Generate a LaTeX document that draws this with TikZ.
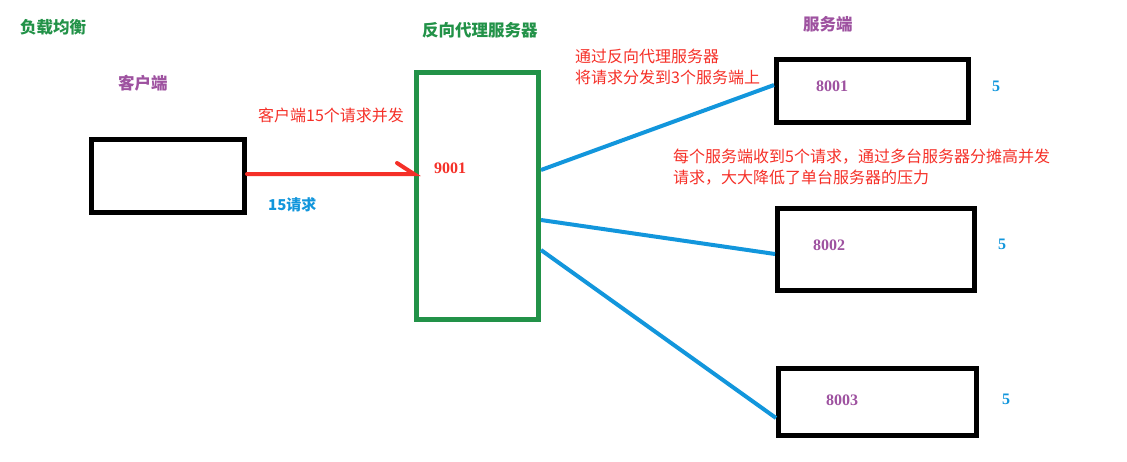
\documentclass[tikz,border=0pt]{standalone}
\usepackage{fontspec}
\setmainfont{Noto Sans CJK SC}
\newfontfamily\numfont{Liberation Serif}
\definecolor{tgreen}{RGB}{34,146,72}
\definecolor{tred}{RGB}{245,48,40}
\definecolor{tpurple}{RGB}{158,82,160}
\definecolor{tblue}{RGB}{18,150,220}
\begin{document}
\begin{tikzpicture}[x=1pt,y=-1pt,
  box/.style={draw=black,line width=5pt,inner sep=0pt,fill=white},
  title/.style={anchor=west,inner sep=0pt,font=\fontsize{16.5}{19}\selectfont\bfseries},
  note/.style={anchor=west,inner sep=0pt,align=left,text=tred,font=\fontsize{16}{21}\selectfont},
  num/.style={anchor=west,inner sep=0pt,font=\fontsize{16}{18}\numfont\bfseries},
  link/.style={tblue,line width=4pt}]
\useasboundingbox (0,0) rectangle (1127,461);
% boxes
\node[box,minimum width=153pt,minimum height=73pt] (client) at (168,176) {};
\node[box,draw=tgreen,minimum width=122pt,minimum height=247pt] (proxy) at (477.5,196) {};
\node[box,minimum width=192pt,minimum height=63pt] (s1) at (872.5,91) {};
\node[box,minimum width=197pt,minimum height=82pt] (s2) at (876,249.5) {};
\node[box,minimum width=198pt,minimum height=67pt] (s3) at (877.5,402) {};
% titles
\node[title,text=tgreen] (t1) at (20,27) {负载均衡};
\node[title,text=tpurple] (t2) at (118,83) {客户端};
\node[title,text=tgreen] (t3) at (422,30) {反向代理服务器};
\node[title,text=tpurple] (t4) at (803,24) {服务端};
% notes
\node[note] (n1) at (258,115) {客户端15个请求并发};
\node[note,text=tblue,font=\fontsize{15}{18}\selectfont\bfseries] (n2) at (268,205) {15请求};
\node[note] (n3) at (575,67) {通过反向代理服务器\\将请求分发到3个服务端上};
\node[note] (n4) at (673,167) {每个服务端收到5个请求，通过多台服务器分摊高并发\\请求，大大降低了单台服务器的压力};
% numbers
\node[num,text=tred] (p) at (434,168) {9001};
\node[num,text=tpurple] (a1) at (816,86) {8001};
\node[num,text=tpurple] (a2) at (813,245) {8002};
\node[num,text=tpurple] (a3) at (826,400) {8003};
\node[num,text=tblue] (c1) at (992,86) {5};
\node[num,text=tblue] (c2) at (998,244) {5};
\node[num,text=tblue] (c3) at (1002,399) {5};
% connectors
\coordinate (aend) at ([yshift=22pt]proxy.west);
\draw[tred,line width=4pt,line cap=round] ([yshift=2pt]client.east) -- (aend) -- ++(-17pt,11pt);
\draw[link] ([yshift=26pt]proxy.east) -- ([yshift=6pt]s1.west);
\draw[link] ([yshift=-24pt]proxy.east) -- ([yshift=-4.5pt]s2.west);
\draw[link] ([yshift=-54pt]proxy.east) -- ([yshift=-16pt]s3.west);
\end{tikzpicture}
\end{document}
